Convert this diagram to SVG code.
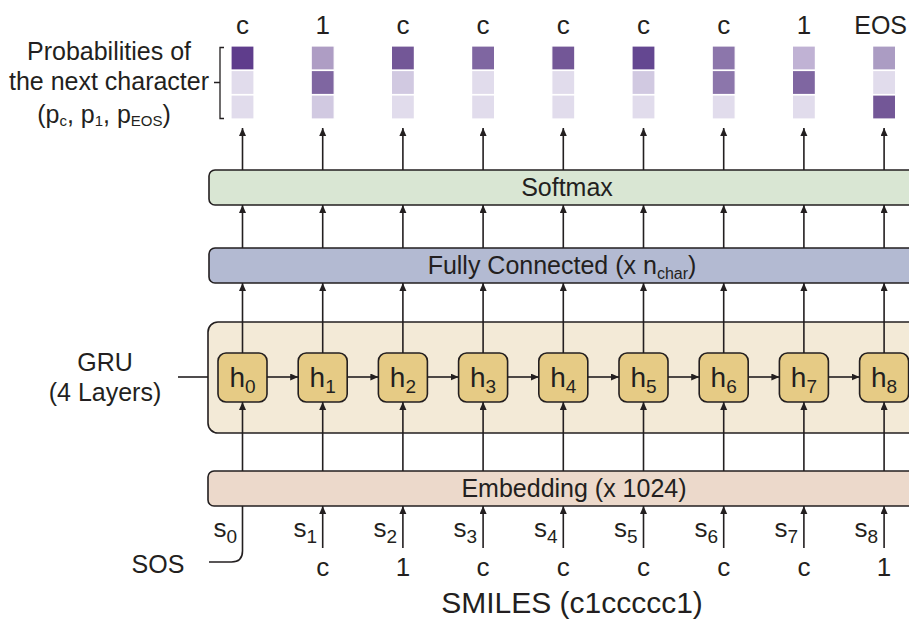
<svg xmlns="http://www.w3.org/2000/svg" width="909" height="620" viewBox="0 0 909 620">
<defs>
<marker id="ah" markerUnits="userSpaceOnUse" markerWidth="9" markerHeight="8" refX="8" refY="3.5" orient="auto">
<path d="M0,0 L8,3.5 L0,7 z" fill="#231f20"/>
</marker>
<style>
text{font-family:"Liberation Sans",Arial,sans-serif;fill:#231f20}
.t{font-size:25px}
.c{font-size:26px}
.sub{font-size:19px}
.bar{stroke:#231f20;stroke-width:1.6}
.ln{stroke:#231f20;stroke-width:1.6;fill:none}
.ar{stroke:#231f20;stroke-width:1.6;fill:none;marker-end:url(#ah)}
.pb{stroke:#ffffff;stroke-width:1.2}
.h{fill:#e6cb85;stroke:#231f20;stroke-width:1.6}
</style>
</defs>
<rect width="909" height="620" fill="#ffffff"/>

<g id="prob-label">
<text class="t" x="109" y="60" text-anchor="middle">Probabilities of</text>
<text class="t" x="109" y="90" text-anchor="middle">the next character</text>
<text class="t" x="104" y="123" text-anchor="middle">(p<tspan font-size="15" dy="3">c</tspan><tspan dy="-3">, p</tspan><tspan font-size="15" dy="3">1</tspan><tspan dy="-3">, p</tspan><tspan font-size="15" dy="3">EOS</tspan><tspan dy="-3">)</tspan></text>
<path class="ln" d="M214,82.5 H220 M224,47.5 H220 V118.5 H224" style="stroke-width:1.3"/>
</g>

<g id="probabilities">
<g id="p0"><text class="c" x="242.5" y="34" text-anchor="middle">c</text>
<rect class="pb" x="231" y="46" width="23" height="24" fill="#5f3d8c"/><rect class="pb" x="231" y="70.5" width="23" height="24" fill="#e1dcec"/><rect class="pb" x="231" y="95" width="23" height="24" fill="#e1dcec"/></g>
<g id="p1"><text class="c" x="322.7" y="34" text-anchor="middle">1</text>
<rect class="pb" x="311.2" y="46" width="23" height="24" fill="#ae9dc4"/><rect class="pb" x="311.2" y="70.5" width="23" height="24" fill="#7f66a1"/><rect class="pb" x="311.2" y="95" width="23" height="24" fill="#d1c9e1"/></g>
<g id="p2"><text class="c" x="402.9" y="34" text-anchor="middle">c</text>
<rect class="pb" x="391.4" y="46" width="23" height="24" fill="#735797"/><rect class="pb" x="391.4" y="70.5" width="23" height="24" fill="#d1c9e1"/><rect class="pb" x="391.4" y="95" width="23" height="24" fill="#e1dcec"/></g>
<g id="p3"><text class="c" x="483.1" y="34" text-anchor="middle">c</text>
<rect class="pb" x="471.6" y="46" width="23" height="24" fill="#7f66a1"/><rect class="pb" x="471.6" y="70.5" width="23" height="24" fill="#e1dcec"/><rect class="pb" x="471.6" y="95" width="23" height="24" fill="#e1dcec"/></g>
<g id="p4"><text class="c" x="563.3" y="34" text-anchor="middle">c</text>
<rect class="pb" x="551.8" y="46" width="23" height="24" fill="#735797"/><rect class="pb" x="551.8" y="70.5" width="23" height="24" fill="#e1dcec"/><rect class="pb" x="551.8" y="95" width="23" height="24" fill="#e1dcec"/></g>
<g id="p5"><text class="c" x="643.5" y="34" text-anchor="middle">c</text>
<rect class="pb" x="632" y="46" width="23" height="24" fill="#644791"/><rect class="pb" x="632" y="70.5" width="23" height="24" fill="#d1c9e1"/><rect class="pb" x="632" y="95" width="23" height="24" fill="#e1dcec"/></g>
<g id="p6"><text class="c" x="723.7" y="34" text-anchor="middle">c</text>
<rect class="pb" x="712.2" y="46" width="23" height="24" fill="#8c76ab"/><rect class="pb" x="712.2" y="70.5" width="23" height="24" fill="#8c76ab"/><rect class="pb" x="712.2" y="95" width="23" height="24" fill="#e1dcec"/></g>
<g id="p7"><text class="c" x="803.9" y="34" text-anchor="middle">1</text>
<rect class="pb" x="792.4" y="46" width="23" height="24" fill="#c0b2d4"/><rect class="pb" x="792.4" y="70.5" width="23" height="24" fill="#7f66a1"/><rect class="pb" x="792.4" y="95" width="23" height="24" fill="#e1dcec"/></g>
<g id="p8"><text x="907" y="34" text-anchor="end" font-size="25">EOS</text>
<rect class="pb" x="872.6" y="46" width="23" height="24" fill="#ab9cc3"/><rect class="pb" x="872.6" y="70.5" width="23" height="24" fill="#e1dcec"/><rect class="pb" x="872.6" y="95" width="23" height="24" fill="#735797"/></g>
</g>

<g id="softmax">
<rect class="bar" x="209" y="170" width="730" height="35" rx="6" fill="#d9e6d3"/>
<text class="t" x="567" y="196" text-anchor="middle">Softmax</text>
</g>

<g id="fully-connected">
<rect class="bar" x="209" y="248" width="730" height="35" rx="6" fill="#b3bad2"/>
<text class="t" x="562" y="274" text-anchor="middle">Fully Connected  (x n<tspan font-size="16" dy="5">char</tspan><tspan dy="-5">)</tspan></text>
</g>

<g id="gru">
<rect class="bar" x="208" y="322" width="730" height="111" rx="10" fill="#f3ead7"/>
<text class="t" x="105" y="371" text-anchor="middle">GRU</text>
<text class="t" x="105" y="401" text-anchor="middle">(4 Layers)</text>
</g>

<g id="embedding">
<rect class="bar" x="208" y="471" width="730" height="35" rx="6" fill="#ecd9cb"/>
<text class="t" x="574" y="497" text-anchor="middle">Embedding (x 1024)</text>
</g>

<g id="connectors">
<path class="ln" d="M178,377 H208"/>
<path class="ar" d="M267,377 H298.2"/>
<path class="ar" d="M347.2,377 H378.4"/>
<path class="ar" d="M427.4,377 H458.6"/>
<path class="ar" d="M507.6,377 H538.8"/>
<path class="ar" d="M587.8,377 H619"/>
<path class="ar" d="M668,377 H699.2"/>
<path class="ar" d="M748.2,377 H779.4"/>
<path class="ar" d="M828.4,377 H859.6"/>

<g id="to-probs">
<path class="ar" d="M242.5,170 V128"/><path class="ar" d="M322.7,170 V128"/><path class="ar" d="M402.9,170 V128"/><path class="ar" d="M483.1,170 V128"/><path class="ar" d="M563.3,170 V128"/><path class="ar" d="M643.5,170 V128"/><path class="ar" d="M723.7,170 V128"/><path class="ar" d="M803.9,170 V128"/><path class="ar" d="M884.1,170 V128"/>
</g>
<g id="fc-to-softmax">
<path class="ar" d="M242.5,248 V205"/><path class="ar" d="M322.7,248 V205"/><path class="ar" d="M402.9,248 V205"/><path class="ar" d="M483.1,248 V205"/><path class="ar" d="M563.3,248 V205"/><path class="ar" d="M643.5,248 V205"/><path class="ar" d="M723.7,248 V205"/><path class="ar" d="M803.9,248 V205"/><path class="ar" d="M884.1,248 V205"/>
</g>
<g id="h-to-fc">
<path class="ar" d="M242.5,353 V283"/><path class="ar" d="M322.7,353 V283"/><path class="ar" d="M402.9,353 V283"/><path class="ar" d="M483.1,353 V283"/><path class="ar" d="M563.3,353 V283"/><path class="ar" d="M643.5,353 V283"/><path class="ar" d="M723.7,353 V283"/><path class="ar" d="M803.9,353 V283"/><path class="ar" d="M884.1,353 V283"/>
</g>
<g id="emb-to-h">
<path class="ar" d="M242.5,471 V402"/><path class="ar" d="M322.7,471 V402"/><path class="ar" d="M402.9,471 V402"/><path class="ar" d="M483.1,471 V402"/><path class="ar" d="M563.3,471 V402"/><path class="ar" d="M643.5,471 V402"/><path class="ar" d="M723.7,471 V402"/><path class="ar" d="M803.9,471 V402"/><path class="ar" d="M884.1,471 V402"/>
</g>
<g id="input-to-emb">
<path class="ln" d="M242.5,506 V551 Q242.5,562 231.5,562 H209"/>
<path class="ar" d="M322.7,548 V506"/><path class="ar" d="M402.9,548 V506"/><path class="ar" d="M483.1,548 V506"/><path class="ar" d="M563.3,548 V506"/><path class="ar" d="M643.5,548 V506"/><path class="ar" d="M723.7,548 V506"/><path class="ar" d="M803.9,548 V506"/><path class="ar" d="M884.1,548 V506"/>
</g>
</g>

<g id="hidden-states">
<g id="h0"><rect class="h" x="218" y="353" width="49" height="49" rx="8"/><text x="242.5" y="387" text-anchor="middle" font-size="28">h<tspan font-size="19" dy="6">0</tspan></text></g>
<g id="h1"><rect class="h" x="298.2" y="353" width="49" height="49" rx="8"/><text x="322.7" y="387" text-anchor="middle" font-size="28">h<tspan font-size="19" dy="6">1</tspan></text></g>
<g id="h2"><rect class="h" x="378.4" y="353" width="49" height="49" rx="8"/><text x="402.9" y="387" text-anchor="middle" font-size="28">h<tspan font-size="19" dy="6">2</tspan></text></g>
<g id="h3"><rect class="h" x="458.6" y="353" width="49" height="49" rx="8"/><text x="483.1" y="387" text-anchor="middle" font-size="28">h<tspan font-size="19" dy="6">3</tspan></text></g>
<g id="h4"><rect class="h" x="538.8" y="353" width="49" height="49" rx="8"/><text x="563.3" y="387" text-anchor="middle" font-size="28">h<tspan font-size="19" dy="6">4</tspan></text></g>
<g id="h5"><rect class="h" x="619" y="353" width="49" height="49" rx="8"/><text x="643.5" y="387" text-anchor="middle" font-size="28">h<tspan font-size="19" dy="6">5</tspan></text></g>
<g id="h6"><rect class="h" x="699.2" y="353" width="49" height="49" rx="8"/><text x="723.7" y="387" text-anchor="middle" font-size="28">h<tspan font-size="19" dy="6">6</tspan></text></g>
<g id="h7"><rect class="h" x="779.4" y="353" width="49" height="49" rx="8"/><text x="803.9" y="387" text-anchor="middle" font-size="28">h<tspan font-size="19" dy="6">7</tspan></text></g>
<g id="h8"><rect class="h" x="859.6" y="353" width="49" height="49" rx="8"/><text x="884.1" y="387" text-anchor="middle" font-size="28">h<tspan font-size="19" dy="6">8</tspan></text></g>
</g>

<g id="inputs">
<text class="c" x="237" y="537" text-anchor="end">s<tspan class="sub" dy="6">0</tspan></text>
<text class="c" x="317" y="537" text-anchor="end">s<tspan class="sub" dy="6">1</tspan></text>
<text class="c" x="397" y="537" text-anchor="end">s<tspan class="sub" dy="6">2</tspan></text>
<text class="c" x="477" y="537" text-anchor="end">s<tspan class="sub" dy="6">3</tspan></text>
<text class="c" x="557.5" y="537" text-anchor="end">s<tspan class="sub" dy="6">4</tspan></text>
<text class="c" x="637.5" y="537" text-anchor="end">s<tspan class="sub" dy="6">5</tspan></text>
<text class="c" x="718" y="537" text-anchor="end">s<tspan class="sub" dy="6">6</tspan></text>
<text class="c" x="798" y="537" text-anchor="end">s<tspan class="sub" dy="6">7</tspan></text>
<text class="c" x="878" y="537" text-anchor="end">s<tspan class="sub" dy="6">8</tspan></text>
<text class="t" x="158" y="573" text-anchor="middle">SOS</text>
<text class="c" x="322.7" y="576" text-anchor="middle">c</text>
<text class="c" x="402.9" y="576" text-anchor="middle">1</text>
<text class="c" x="483.1" y="576" text-anchor="middle">c</text>
<text class="c" x="563.3" y="576" text-anchor="middle">c</text>
<text class="c" x="643.5" y="576" text-anchor="middle">c</text>
<text class="c" x="723.7" y="576" text-anchor="middle">c</text>
<text class="c" x="803.9" y="576" text-anchor="middle">c</text>
<text class="c" x="884.1" y="576" text-anchor="middle">1</text>
<text x="572" y="613" text-anchor="middle" font-size="30">SMILES (c1ccccc1)</text>
</g>
</svg>
